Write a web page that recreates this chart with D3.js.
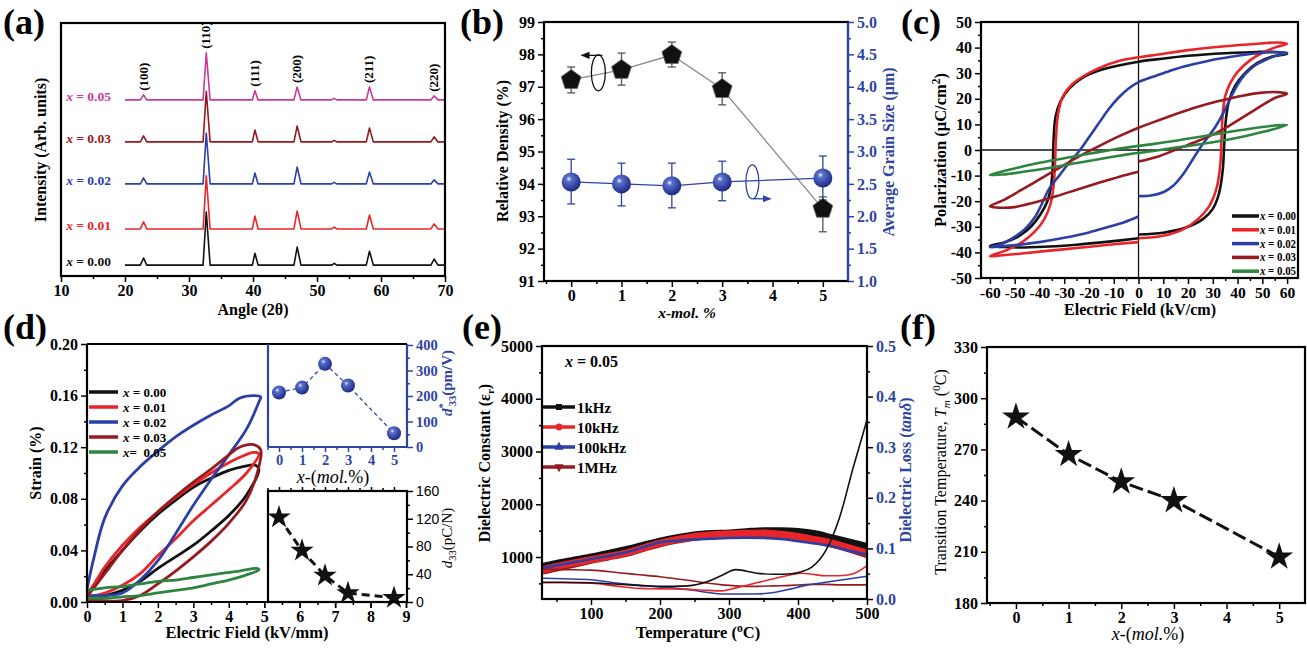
<!DOCTYPE html>
<html>
<head>
<meta charset="utf-8">
<script src="https://cdn.jsdelivr.net/npm/d3@7"></script>
<style>
  body { margin: 0; background: #fff; }
</style>
</head>
<body>
<svg id="fig" width="1307" height="649"></svg>
<script>
// ---------- colours ----------
var cBlack = "#111111", cRed = "#e8262a", cBlue = "#2b3fa5", cDark = "#951b20",
    cPink = "#c63a9b", cGreen = "#2e8540", cAxBlue = "#2e44a3";
var SERIF = "'Liberation Serif','Times New Roman',serif";

// ---------- (a) XRD ----------
var compLabels = ["0.00", "0.01", "0.02", "0.03", "0.05"];
var xrdAngle = [20, 22.4, 22.9, 23.4, 32.2, 32.7, 33.3, 39.9, 40.3, 40.8, 46.4, 46.9, 47.5, 52.3, 52.7, 53.1, 57.7, 58.2, 58.8, 67.8, 68.3, 68.9, 70];
var xrd000 = [0, 0, 2.8, 0, 0, 21, 0, 0, 4.7, 0, 0, 7.1, 0, 0, 0.7, 0, 0, 5.5, 0, 0, 2.4, 0, 0];
var xrd001 = [0, 0, 2.8, 0, 0, 21, 0, 0, 5.1, 0, 0, 7.1, 0, 0, 0.7, 0, 0, 5.5, 0, 0, 2.0, 0, 0];
var xrd002 = [0, 0, 2.4, 0, 0, 20, 0, 0, 4.3, 0, 0, 6.7, 0, 0, 0.6, 0, 0, 4.7, 0, 0, 1.6, 0, 0];
var xrd003 = [0, 0, 2.4, 0, 0, 20, 0, 0, 4.7, 0, 0, 6.3, 0, 0, 0.6, 0, 0, 5.5, 0, 0, 2.0, 0, 0];
var xrd005 = [0, 0, 2.0, 0, 0, 18.6, 0, 0, 3.6, 0, 0, 5.1, 0, 0, 0.6, 0, 0, 5.1, 0, 0, 1.6, 0, 0];
var xrdOffset = [4.3, 18.6, 36.4, 53, 69.6];
var hklAngle = [22.9, 32.7, 40.3, 46.9, 58.2, 68.3];
var hklIndex = [2, 5, 8, 11, 17, 20];
var hklLabels = ["(100)", "(110)", "(111)", "(200)", "(211)", "(220)"];

// ---------- (b) density / grain size ----------
var molX = [0, 1, 2, 3, 5];
var density = [97.21, 97.52, 97.98, 96.93, 93.23];
var densityLo = [96.81, 97.05, 97.61, 96.44, 92.52];
var densityHi = [97.61, 98.04, 98.38, 97.43, 93.6];
var grain = [2.53, 2.5, 2.47, 2.53, 2.59];
var grainLo = [2.19, 2.16, 2.13, 2.24, 2.25];
var grainHi = [2.88, 2.82, 2.82, 2.85, 2.93];

// ---------- (c) P-E loops ----------
var pe000 = [[0,-33],[10,-32.3],[20,-30],[26,-27],[30,-23],[32.5,-17],[34,-8],[34.6,2],[35.3,12],[36.5,19],[39,25],[43,30],[48,34],[54,36.5],[60,37.5],[56,38.2],[48,38.3],[35,37.8],[20,36.8],[8,35.5],[0,34.5],[-8,33],[-16,31],[-23,28],[-28,24],[-31.5,19],[-33.5,13],[-34.3,4],[-34.6,-6],[-35.3,-14],[-36.8,-20],[-39.5,-25],[-43,-29.5],[-48,-33.5],[-54,-36],[-60,-37.5],[-55,-37.9],[-48,-38.1],[-38,-37.8],[-25,-37],[-12,-35.8],[0,-34.5]];
var pe001 = [[0,-34.5],[10,-33.5],[18,-31],[24,-27],[28.5,-22],[31.5,-15],[33,-6],[33.5,4],[34,14],[35,21],[37,26],[40,30.5],[45,35],[50,38],[55,40],[60,41.5],[56,42],[48,41.5],[35,40.5],[20,39],[8,37.3],[0,36.2],[-8,34.8],[-16,32],[-22,29],[-27,25.5],[-30.5,21],[-32.5,14],[-33.3,5],[-33.7,-5],[-34.3,-14],[-35.5,-21],[-38,-27],[-42,-32],[-47,-36],[-53,-39],[-60,-41.5],[-56,-41.2],[-48,-40.5],[-38,-39.5],[-25,-38.3],[-12,-37],[0,-36]];
var pe002 = [[0,-18],[5,-17.8],[10,-16.5],[14,-14],[18,-9.5],[22,-3.5],[25,1],[28,5],[31,9],[34,14],[37,20],[40,25.5],[43,29.5],[47,33],[52,35.5],[56,37],[60,38],[55,38.3],[47,37.7],[38,36.5],[28,34.8],[18,32.5],[10,30],[4,28],[0,26.5],[-4,24],[-8,20.5],[-12,16],[-16,10.5],[-20,5],[-24,-0.5],[-28,-5],[-32,-10],[-36,-15],[-39,-21],[-42,-26.5],[-46,-31],[-51,-34.5],[-56,-37],[-60,-38],[-55,-37.6],[-48,-37],[-40,-36],[-30,-34.3],[-20,-32.2],[-12,-30],[-6,-28.3],[0,-26]];
var pe003 = [[0,-4.5],[8,-2.5],[16,0.5],[24,3.5],[30,6],[35,8.5],[40,11.5],[45,14.5],[50,17.5],[55,20.3],[60,22],[56,22.6],[50,22.4],[42,21.2],[32,19],[22,16.3],[12,13],[5,10.5],[0,8.7],[-8,5.3],[-16,1.5],[-24,-2.5],[-32,-7],[-40,-11.5],[-48,-16],[-55,-19.8],[-60,-22],[-57,-22.5],[-50,-22.3],[-42,-20.5],[-33,-18],[-24,-15.2],[-16,-12.8],[-8,-10.5],[0,-8.5]];
var pe005 = [[0,-1.2],[10,0.2],[20,1.6],[30,3],[40,4.8],[50,7],[60,9.8],[55,9.6],[45,8.3],[35,6.8],[25,5.2],[15,3.6],[5,2.2],[0,1.6],[-10,0.2],[-20,-1.5],[-30,-3.2],[-40,-5],[-50,-7.2],[-60,-9.8],[-55,-9.6],[-45,-8.3],[-35,-6.8],[-25,-5.1],[-15,-3.4],[-5,-1.8],[0,-1.1]];

// ---------- (d) strain loops + insets ----------
var st000 = [[0,0.003],[0.5,0.005],[1,0.009],[1.5,0.016],[2,0.026],[2.5,0.035],[3,0.044],[3.5,0.055],[4,0.067],[4.5,0.083],[4.85,0.103],[4.75,0.106],[4.4,0.105],[4,0.102],[3.5,0.096],[3,0.089],[2.5,0.079],[2,0.068],[1.5,0.055],[1,0.04],[0.5,0.024],[0.2,0.012],[0,0.006]];
var st001 = [[0,0.004],[0.5,0.007],[1,0.013],[1.5,0.022],[2,0.036],[2.5,0.049],[3,0.063],[3.5,0.075],[4,0.087],[4.5,0.1],[4.85,0.115],[4.7,0.116],[4.3,0.112],[4,0.108],[3.5,0.1],[3,0.091],[2.5,0.081],[2,0.07],[1.5,0.058],[1,0.044],[0.5,0.027],[0.2,0.014],[0,0.006]];
var st002 = [[0,0.005],[0.5,0.005],[1,0.007],[1.5,0.017],[2,0.032],[2.5,0.053],[3,0.075],[3.5,0.095],[4,0.114],[4.5,0.134],[4.85,0.155],[4.9,0.159],[4.7,0.16],[4.3,0.158],[4,0.152],[3.5,0.145],[3,0.137],[2.5,0.128],[2,0.117],[1.5,0.105],[1,0.09],[0.5,0.065],[0.2,0.035],[0,0.01]];
var st003 = [[0,0.002],[0.5,0.001],[1,0.001],[1.5,0.005],[2,0.014],[2.5,0.024],[3,0.035],[3.5,0.047],[4,0.061],[4.5,0.079],[4.85,0.105],[4.9,0.118],[4.7,0.122],[4.3,0.12],[4,0.114],[3.5,0.103],[3,0.093],[2.5,0.082],[2,0.07],[1.5,0.056],[1,0.04],[0.5,0.022],[0,0.004]];
var st005 = [[0,0.003],[0.5,0.003],[1,0.004],[1.5,0.005],[2,0.007],[2.5,0.009],[3,0.011],[3.5,0.014],[4,0.017],[4.5,0.021],[4.85,0.025],[4.8,0.026],[4.3,0.024],[3.5,0.021],[3,0.019],[2.5,0.017],[2,0.016],[1.5,0.014],[1,0.012],[0.5,0.011],[0,0.009]];
var d33star = [214, 233, 326, 241, 54];
var d33 = [122, 74, 38, 13, 6];

// ---------- (e) dielectric ----------
var tempE = [30, 50, 75, 100, 125, 150, 175, 200, 225, 250, 275, 300, 325, 350, 375, 400, 425, 450, 475, 500];
var eps1k   = [823, 880, 940, 1000, 1070, 1140, 1220, 1300, 1365, 1420, 1445, 1455, 1480, 1500, 1500, 1485, 1440, 1360, 1280, 1200];
var eps10k  = [760, 820, 890, 950, 1010, 1075, 1170, 1265, 1335, 1390, 1420, 1440, 1450, 1455, 1430, 1390, 1330, 1265, 1170, 1075];
var eps100k = [790, 840, 900, 960, 1020, 1085, 1180, 1280, 1310, 1330, 1345, 1360, 1365, 1360, 1340, 1300, 1255, 1200, 1120, 1045];
var eps1M   = [730, 790, 860, 935, 1000, 1065, 1160, 1250, 1320, 1375, 1405, 1420, 1425, 1420, 1400, 1360, 1310, 1240, 1150, 1045];
var tempLoss = [30, 60, 100, 140, 170, 200, 240, 270, 290, 310, 340, 365, 390, 405, 420, 440, 460, 480, 500];
var loss1k   = [0.033, 0.033, 0.032, 0.029, 0.027, 0.025, 0.026, 0.035, 0.047, 0.058, 0.051, 0.049, 0.05, 0.054, 0.063, 0.095, 0.16, 0.26, 0.354];
var loss10k  = [0.032, 0.032, 0.031, 0.025, 0.021, 0.02, 0.019, 0.017, 0.016, 0.022, 0.032, 0.04, 0.048, 0.051, 0.049, 0.046, 0.046, 0.05, 0.066];
var loss100k = [0.041, 0.04, 0.038, 0.031, 0.027, 0.024, 0.019, 0.013, 0.01, 0.01, 0.01, 0.013, 0.02, 0.025, 0.029, 0.033, 0.037, 0.041, 0.045];
var loss1M   = [0.059, 0.058, 0.057, 0.052, 0.048, 0.044, 0.037, 0.031, 0.028, 0.026, 0.025, 0.026, 0.027, 0.028, 0.029, 0.029, 0.028, 0.028, 0.028];
var freqLabels = ["1kHz", "10kHz", "100kHz", "1MHz"];

// ---------- (f) transition temperature ----------
var tm = [289, 267, 251, 240, 207];

// ||================================||
// || HELPERS                        ||
// ||================================||
var svg = d3.select("#fig")
    .attr("font-family", SERIF)
    .attr("font-weight", "bold");

var TICK = 16, TITLE = 16, PANEL = 36;

var defs = svg.append("defs");
var grad = defs.append("radialGradient").attr("id", "sph")
    .attr("cx", "38%").attr("cy", "34%").attr("r", "66%");
grad.append("stop").attr("offset", "0%").attr("stop-color", "#f2f4ff");
grad.append("stop").attr("offset", "22%").attr("stop-color", "#5a6fcc");
grad.append("stop").attr("offset", "100%").attr("stop-color", "#1c2b85");

function arrowDef(id, col) {
  defs.append("marker").attr("id", id).attr("viewBox", "0 0 10 10")
      .attr("refX", 8).attr("refY", 5).attr("markerWidth", 7).attr("markerHeight", 7)
      .attr("orient", "auto-start-reverse")
    .append("path").attr("d", "M0,1L10,5L0,9Z").attr("fill", col);
}
arrowDef("arrK", "#111");
arrowDef("arrB", cAxBlue);

function rich(t, parts) {
  if (typeof parts === "string") parts = [{t: parts}];
  var cur = 0;
  parts.forEach(function(p) {
    var want = p.sub ? (p.shift || 4) : p.sup ? -(p.shift || 6) : 0;
    var s = t.append("tspan").attr("dy", want - cur).text(p.t);
    if (p.sub || p.sup) s.attr("font-size", "70%");
    if (p.it) s.attr("font-style", "italic");
    if (p.w) s.attr("font-weight", p.w);
    if (p.dx) s.attr("dx", p.dx);
    cur = want;
  });
  return t;
}

function label(x, y, parts, o) {
  o = o || {};
  var t = svg.append("text")
      .attr("font-size", o.fs || 15)
      .attr("fill", o.color || "#000")
      .attr("text-anchor", o.anchor || "start");
  if (o.rot) t.attr("transform", "translate(" + x + "," + y + ") rotate(-90)");
  else t.attr("x", x).attr("y", y);
  if (o.w) t.attr("font-weight", o.w);
  if (o.family) t.attr("font-family", o.family);
  return rich(t, parts);
}

function axis(side, scale, pos, major, minor, o) {
  o = o || {};
  var gen = {bottom: d3.axisBottom, top: d3.axisTop, left: d3.axisLeft, right: d3.axisRight}[side];
  var horiz = side === "bottom" || side === "top";
  var col = o.color || "#000";
  var g = svg.append("g")
      .attr("transform", horiz ? "translate(0," + pos + ")" : "translate(" + pos + ",0)");
  if (minor) g.append("g").call(gen(scale).tickValues(minor).tickSize(3).tickFormat(""));
  var m = g.append("g").call(gen(scale).tickValues(major).tickSize(o.size || 6)
      .tickPadding(o.pad == null ? 3 : o.pad).tickFormat(o.fmt || function(d) { return d; }));
  g.selectAll(".domain").remove();
  g.selectAll("line").attr("stroke", col).attr("stroke-width", 1.5);
  m.attr("font-family", o.family || SERIF).attr("font-size", o.fs || TICK)
   .attr("font-weight", o.w || "bold");
  m.selectAll("text").attr("fill", o.tcolor || col);
  if (o.noLabels) m.selectAll("text").remove();
  return g;
}

function frame(x0, y0, x1, y1, col) {
  svg.append("rect").attr("x", x0).attr("y", y0)
      .attr("width", x1 - x0).attr("height", y1 - y0)
      .attr("fill", "none").attr("stroke", col || "#000").attr("stroke-width", 2.2);
}

function hline(x0, x1, y, col, w) {
  svg.append("line").attr("x1", x0).attr("x2", x1).attr("y1", y).attr("y2", y)
      .attr("stroke", col).attr("stroke-width", w || 2.2);
}
function vline(x, y0, y1, col, w) {
  svg.append("line").attr("x1", x).attr("x2", x).attr("y1", y0).attr("y2", y1)
      .attr("stroke", col).attr("stroke-width", w || 2.2);
}

function xEq(v) { return [{t: "x", it: 1}, {t: " = " + v}]; }

var pentagon = {
  draw: function(ctx, size) {
    var r = Math.sqrt(size / 2.378);
    for (var i = 0; i < 5; i++) {
      var a = -Math.PI / 2 + i * 2 * Math.PI / 5;
      if (i) ctx.lineTo(r * Math.cos(a), r * Math.sin(a));
      else ctx.moveTo(r * Math.cos(a), r * Math.sin(a));
    }
    ctx.closePath();
  }
};

function range(a, b, s) { return d3.range(a, b + s / 2, s); }

// ||================================||
// || (a) XRD                        ||
// ||================================||
var xA = d3.scaleLinear().domain([10, 70]).range([61, 445]);
var yA = d3.scaleLinear().domain([0, 100]).range([276, 23]);
var xrdSeries = [xrd000, xrd001, xrd002, xrd003, xrd005];
var xrdColors = [cBlack, cRed, cBlue, cDark, cPink];

xrdSeries.forEach(function(s, k) {
  var pts = xrdAngle.map(function(a, i) { return [a, s[i] + xrdOffset[k]]; });
  svg.append("path").datum(pts)
      .attr("d", d3.line().x(function(d) { return xA(d[0]); }).y(function(d) { return yA(d[1]); }))
      .attr("fill", "none").attr("stroke", xrdColors[k]).attr("stroke-width", 1.6)
      .attr("stroke-linejoin", "round");
  label(111, yA(xrdOffset[k]) + 1, xEq(compLabels[k]), {fs: 13.5, color: xrdColors[k], anchor: "end"});
});

hklAngle.forEach(function(a, i) {
  var top = yA(xrd005[hklIndex[i]] + xrdOffset[4]) - 4;
  label(xA(a) + 4, top, hklLabels[i], {fs: 13, rot: true, anchor: "start"});
});

axis("bottom", xA, 276, range(10, 70, 10), range(15, 65, 10));
frame(61, 23, 445, 276);
label(253, 315, "Angle (2\u03b8)", {fs: TITLE, anchor: "middle"});
label(46, 150, "Intensity (Arb. units)", {fs: TITLE, anchor: "middle", rot: true});
label(3, 34, "(a)", {fs: PANEL});

// ||================================||
// || (b) density & grain size       ||
// ||================================||
var xB = d3.scaleLinear().domain([-0.54, 5.5]).range([544, 848]);
var yB = d3.scaleLinear().domain([91, 99]).range([281, 22]);
var yB2 = d3.scaleLinear().domain([1, 5]).range([281, 22]);

svg.append("path").datum(molX.map(function(m, i) { return [m, density[i]]; }))
    .attr("d", d3.line().x(function(d) { return xB(d[0]); }).y(function(d) { return yB(d[1]); }))
    .attr("fill", "none").attr("stroke", "#8a8a8a").attr("stroke-width", 1.3);
svg.append("path").datum(molX.map(function(m, i) { return [m, grain[i]]; }))
    .attr("d", d3.line().x(function(d) { return xB(d[0]); }).y(function(d) { return yB2(d[1]); }))
    .attr("fill", "none").attr("stroke", cAxBlue).attr("stroke-width", 1.3);

function errBars(xs, lo, hi, sx, sy, col) {
  var g = svg.append("g").attr("stroke", col).attr("stroke-width", 1.3);
  xs.forEach(function(m, i) {
    var x = sx(m);
    g.append("line").attr("x1", x).attr("x2", x).attr("y1", sy(lo[i])).attr("y2", sy(hi[i]));
    g.append("line").attr("x1", x - 4).attr("x2", x + 4).attr("y1", sy(lo[i])).attr("y2", sy(lo[i]));
    g.append("line").attr("x1", x - 4).attr("x2", x + 4).attr("y1", sy(hi[i])).attr("y2", sy(hi[i]));
  });
}
errBars(molX, densityLo, densityHi, xB, yB, "#555");
errBars(molX, grainLo, grainHi, xB, yB2, cAxBlue);

svg.append("g").selectAll("path").data(molX).enter().append("path")
    .attr("transform", function(d, i) { return "translate(" + xB(d) + "," + yB(density[i]) + ")"; })
    .attr("d", d3.symbol(pentagon, 260))
    .attr("fill", "#111").attr("stroke", "#666").attr("stroke-width", 0.8);
svg.append("g").selectAll("circle").data(molX).enter().append("circle")
    .attr("cx", function(d) { return xB(d); })
    .attr("cy", function(d, i) { return yB2(grain[i]); })
    .attr("r", 9.5).attr("fill", "url(#sph)");

// axis-indicator annotations
svg.append("ellipse").attr("cx", xB(0.54)).attr("cy", yB(97.43)).attr("rx", 7).attr("ry", 18)
    .attr("fill", "none").attr("stroke", "#111").attr("stroke-width", 1.3);
svg.append("line").attr("x1", xB(0.62)).attr("y1", yB(97.97)).attr("x2", xB(0.22)).attr("y2", yB(97.97))
    .attr("stroke", "#111").attr("stroke-width", 1.3).attr("marker-end", "url(#arrK)");
svg.append("ellipse").attr("cx", xB(3.6)).attr("cy", yB2(2.53)).attr("rx", 6.5).attr("ry", 17)
    .attr("fill", "none").attr("stroke", cAxBlue).attr("stroke-width", 1.3);
svg.append("line").attr("x1", xB(3.62)).attr("y1", yB2(2.27)).attr("x2", xB(3.95)).attr("y2", yB2(2.27))
    .attr("stroke", cAxBlue).attr("stroke-width", 1.3).attr("marker-end", "url(#arrB)");

axis("left", yB, 544, range(91, 99, 1), range(91.5, 98.5, 1));
axis("right", yB2, 848, range(1, 5, 0.5), range(1.25, 4.75, 0.5), {color: cAxBlue, fmt: d3.format(".1f")});
axis("bottom", xB, 281, [0, 1, 2, 3, 4, 5], [-0.5, 0.5, 1.5, 2.5, 3.5, 4.5]);
frame(544, 22, 848, 281);
vline(848, 22, 281, cAxBlue);
label(687, 318, [{t: "x-mol. %", it: 1}], {fs: 15.5, anchor: "middle"});
label(508, 151, "Relative Density (%)", {fs: TITLE, anchor: "middle", rot: true});
label(894, 152, "Average Grain Size (\u03bcm)", {fs: TITLE, anchor: "middle", rot: true, color: cAxBlue});
label(460, 34, "(b)", {fs: PANEL});

// ||================================||
// || (c) P-E loops                  ||
// ||================================||
var xC = d3.scaleLinear().domain([-63.6, 64.4]).range([981, 1298]);
var yC = d3.scaleLinear().domain([-50, 50]).range([278, 22]);
vline(xC(0), 22, 278, "#111", 1.3);
hline(981, 1298, yC(0), "#111", 1.3);

var peSeries = [pe000, pe001, pe002, pe003, pe005];
var loopColors = [cBlack, cRed, cBlue, cDark, cGreen];
var peLine = d3.line().x(function(d) { return xC(d[0]); }).y(function(d) { return yC(d[1]); })
    .curve(d3.curveCatmullRom.alpha(0.5));
peSeries.forEach(function(s, k) {
  svg.append("path").datum(s).attr("d", peLine)
      .attr("fill", "none").attr("stroke", loopColors[k]).attr("stroke-width", 2.6)
      .attr("stroke-linejoin", "round");
});

compLabels.forEach(function(c, i) {
  var y = 216 + i * 13.8;
  hline(1232, 1259, y, loopColors[i], 3.5);
  label(1260, y + 4, xEq(c), {fs: 11.5})
      .attr("textLength", 36).attr("lengthAdjust", "spacingAndGlyphs");
});

axis("left", yC, 981, range(-50, 50, 10), range(-45, 45, 10));
axis("bottom", xC, 278, range(-60, 60, 10), range(-55, 55, 10), {fs: 15.5});
frame(981, 22, 1298, 278);
label(1140, 315, "Electric Field (kV/cm)", {fs: TITLE, anchor: "middle"});
label(946, 150, [{t: "Polarization (\u03bcC/cm"}, {t: "2", sup: 1}, {t: ")"}], {fs: 16.5, anchor: "middle", rot: true});
label(901, 34, "(c)", {fs: PANEL});

// ||================================||
// || (d) strain                     ||
// ||================================||
var xD = d3.scaleLinear().domain([0, 9]).range([87, 406]);
var yD = d3.scaleLinear().domain([0, 0.2]).range([602, 344]);
var stSeries = [st000, st001, st002, st003, st005];
var stLine = d3.line().x(function(d) { return xD(d[0]); }).y(function(d) { return yD(d[1]); })
    .curve(d3.curveCatmullRom.alpha(0.5));
stSeries.forEach(function(s, k) {
  svg.append("path").datum(s).attr("d", stLine)
      .attr("fill", "none").attr("stroke", loopColors[k]).attr("stroke-width", 2.8)
      .attr("stroke-linejoin", "round");
});

var stLegend = ["x = 0.00", "x = 0.01", "x = 0.02", "x = 0.03", "x=  0.05"];
stLegend.forEach(function(t, i) {
  var y = 392 + i * 15;
  hline(89, 118, y, loopColors[i], 3.5);
  label(123, y + 5, [{t: "x", it: 1}, {t: t.slice(1)}], {fs: 13}).attr("xml:space", "preserve");
});

axis("left", yD, 87, range(0, 0.2, 0.04), range(0.02, 0.18, 0.04), {fmt: d3.format(".2f")});
axis("bottom", xD, 602, d3.range(0, 10), range(0.5, 8.5, 1));
vline(87, 344, 602, "#000");
hline(87, 407, 602, "#000");
hline(87, 407, 344, "#000");

// upper inset: d*33
var xDi = d3.scaleLinear().domain([0, 5]).range([279, 394]);
var yDi1 = d3.scaleLinear().domain([0, 400]).range([447, 345]);
var yDi2 = d3.scaleLinear().domain([0, 160]).range([602, 491]);

svg.append("rect").attr("x", 268).attr("y", 345).attr("width", 139).attr("height", 102).attr("fill", "#fff");
svg.append("path").datum(molX.map(function(m, i) { return [m, d33star[i]]; }))
    .attr("d", d3.line().x(function(d) { return xDi(d[0]); }).y(function(d) { return yDi1(d[1]); }))
    .attr("fill", "none").attr("stroke", cAxBlue).attr("stroke-width", 1.3).attr("stroke-dasharray", "4,3");
svg.append("g").selectAll("circle").data(molX).enter().append("circle")
    .attr("cx", function(d) { return xDi(d); })
    .attr("cy", function(d, i) { return yDi1(d33star[i]); })
    .attr("r", 7).attr("fill", "url(#sph)");
axis("right", yDi1, 407, range(0, 400, 100), range(50, 350, 100), {fs: 14.5, color: cAxBlue});
axis("bottom", xDi, 447, [0, 1, 2, 3, 4, 5], [-0.5, 0.5, 1.5, 2.5, 3.5, 4.5], {fs: 14.5, color: cAxBlue, size: 5});
vline(268, 344, 447, cAxBlue);
hline(268, 407, 447, cAxBlue);
vline(407, 344, 447, cAxBlue);
label(333, 483, [{t: "x", it: 1}, {t: "-("}, {t: "mol.", it: 1}, {t: "%)"}], {fs: 18, anchor: "middle", w: "normal"});
label(452, 383, [{t: "d", it: 1}, {t: "*", sup: 1}, {t: "33", sub: 1, dx: -3}, {t: "(pm/V)"}],
    {fs: 15, anchor: "middle", rot: true, color: cAxBlue});

// lower inset: d33
svg.append("rect").attr("x", 268).attr("y", 491).attr("width", 139).attr("height", 111).attr("fill", "#fff");
svg.append("path").datum(molX.map(function(m, i) { return [m, d33[i]]; }))
    .attr("d", d3.line().x(function(d) { return xDi(d[0]); }).y(function(d) { return yDi2(d[1]); }))
    .attr("fill", "none").attr("stroke", "#111").attr("stroke-width", 3).attr("stroke-dasharray", "8,5");
svg.append("g").selectAll("path").data(molX).enter().append("path")
    .attr("transform", function(d, i) { return "translate(" + xDi(d) + "," + yDi2(d33[i]) + ")"; })
    .attr("d", d3.symbol(d3.symbolStar, 170)).attr("fill", "#111");
axis("right", yDi2, 407, range(0, 160, 40), range(20, 140, 40),
    {fs: 14, family: "'Liberation Sans',Arial,sans-serif", w: "normal"});
axis("top", xDi, 491, [0, 1, 2, 3, 4, 5], [-0.5, 0.5, 1.5, 2.5, 3.5, 4.5], {noLabels: true, size: 4});
axis("bottom", xD, 602, d3.range(5, 10), null, {noLabels: true});
frame(268, 491, 407, 602);
label(452, 538, [{t: "d", it: 1}, {t: "33", sub: 1}, {t: "(pC/N)"}],
    {fs: 15, anchor: "middle", rot: true, w: "normal"});

label(247, 638, "Electric Field (kV/mm)", {fs: 16.5, anchor: "middle"});
label(41, 463, "Strain (%)", {fs: TITLE, anchor: "middle", rot: true});
label(3, 339, "(d)", {fs: PANEL});

// ||================================||
// || (e) dielectric                 ||
// ||================================||
var xE = d3.scaleLinear().domain([29, 500]).range([542, 867]);
var yE = d3.scaleLinear().domain([204, 5000]).range([599, 346]);
var yE2 = d3.scaleLinear().domain([0, 0.5]).range([599, 346]);
var freqColors = [cBlack, cRed, cBlue, cDark];
var epsSeries = [eps1k, eps10k, eps100k, eps1M];
var lossSeries = [loss1k, loss10k, loss100k, loss1M];
var epsWidth = [7, 7, 2.5, 7];

var epsLine = d3.line().x(function(d) { return xE(d[0]); }).y(function(d) { return yE(d[1]); })
    .curve(d3.curveMonotoneX);
var lossLine = d3.line().x(function(d) { return xE(d[0]); }).y(function(d) { return yE2(d[1]); })
    .curve(d3.curveMonotoneX);

[0, 3, 1, 2].forEach(function(k) {
  svg.append("path").datum(tempE.map(function(t, i) { return [t, epsSeries[k][i]]; }))
      .attr("d", epsLine).attr("fill", "none").attr("stroke", freqColors[k])
      .attr("stroke-width", epsWidth[k]).attr("stroke-linejoin", "round");
});
[3, 2, 1, 0].forEach(function(k) {
  svg.append("path").datum(tempLoss.map(function(t, i) { return [t, lossSeries[k][i]]; }))
      .attr("d", lossLine).attr("fill", "none").attr("stroke", freqColors[k])
      .attr("stroke-width", 1.6);
});

var freqSymbols = [d3.symbolSquare, d3.symbolCircle, d3.symbolTriangle, d3.symbolTriangle];
freqLabels.forEach(function(f, i) {
  var y = 407 + i * 20;
  hline(543, 575, y, freqColors[i], 3.5);
  svg.append("path").attr("d", d3.symbol(freqSymbols[i], 36))
      .attr("transform", "translate(559," + y + ")" + (i === 3 ? " rotate(180)" : ""))
      .attr("fill", freqColors[i]);
  label(577, y + 6, f, {fs: 15});
});
label(565, 367, [{t: "x", it: 1}, {t: " = 0.05"}], {fs: 16});

axis("left", yE, 542, range(1000, 5000, 1000), range(500, 4500, 1000));
axis("right", yE2, 867, range(0, 0.5, 0.1), range(0.05, 0.45, 0.1), {tcolor: cAxBlue, fmt: d3.format(".1f")});
axis("bottom", xE, 599, range(100, 500, 100), range(50, 450, 100));
frame(542, 346, 867, 599);
label(698, 638, [{t: "Temperature ("}, {t: "o", sup: 1}, {t: "C)"}], {fs: 16.5, anchor: "middle"});
label(490, 463, [{t: "Dielectric Constant (\u03b5"}, {t: "r", sub: 1}, {t: ")"}], {fs: 16, anchor: "middle", rot: true});
label(911, 470, [{t: "Dielectric Loss ("}, {t: "tan\u03b4", it: 1}, {t: ")"}], {fs: 16, anchor: "middle", rot: true, color: cAxBlue});
label(462, 339, "(e)", {fs: PANEL});

// ||================================||
// || (f) transition temperature     ||
// ||================================||
var xF = d3.scaleLinear().domain([-0.55, 5.49]).range([987, 1305]);
var yF = d3.scaleLinear().domain([180, 330]).range([603, 347]);
svg.append("path").datum(molX.map(function(m, i) { return [m, tm[i]]; }))
    .attr("d", d3.line().x(function(d) { return xF(d[0]); }).y(function(d) { return yF(d[1]); }))
    .attr("fill", "none").attr("stroke", "#111").attr("stroke-width", 3).attr("stroke-dasharray", "14,5");
svg.append("g").selectAll("path").data(molX).enter().append("path")
    .attr("transform", function(d, i) { return "translate(" + xF(d) + "," + yF(tm[i]) + ")"; })
    .attr("d", d3.symbol(d3.symbolStar, 240)).attr("fill", "#111");

axis("left", yF, 987, range(180, 330, 30), range(195, 315, 30));
axis("bottom", xF, 603, [0, 1, 2, 3, 4, 5], [-0.5, 0.5, 1.5, 2.5, 3.5, 4.5]);
frame(987, 347, 1305, 603);
label(1148, 640, [{t: "x", it: 1}, {t: "-("}, {t: "mol.", it: 1}, {t: "%)"}], {fs: 18, anchor: "middle", w: "normal"});
label(946, 472, [{t: "Transition Temperature, "}, {t: "T", it: 1}, {t: "m", it: 1, sub: 1}, {t: " ("}, {t: "0", sup: 1}, {t: "C)"}],
    {fs: 16, anchor: "middle", rot: true, w: "normal"});
label(900, 339, "(f)", {fs: PANEL});
</script>
</body>
</html>
